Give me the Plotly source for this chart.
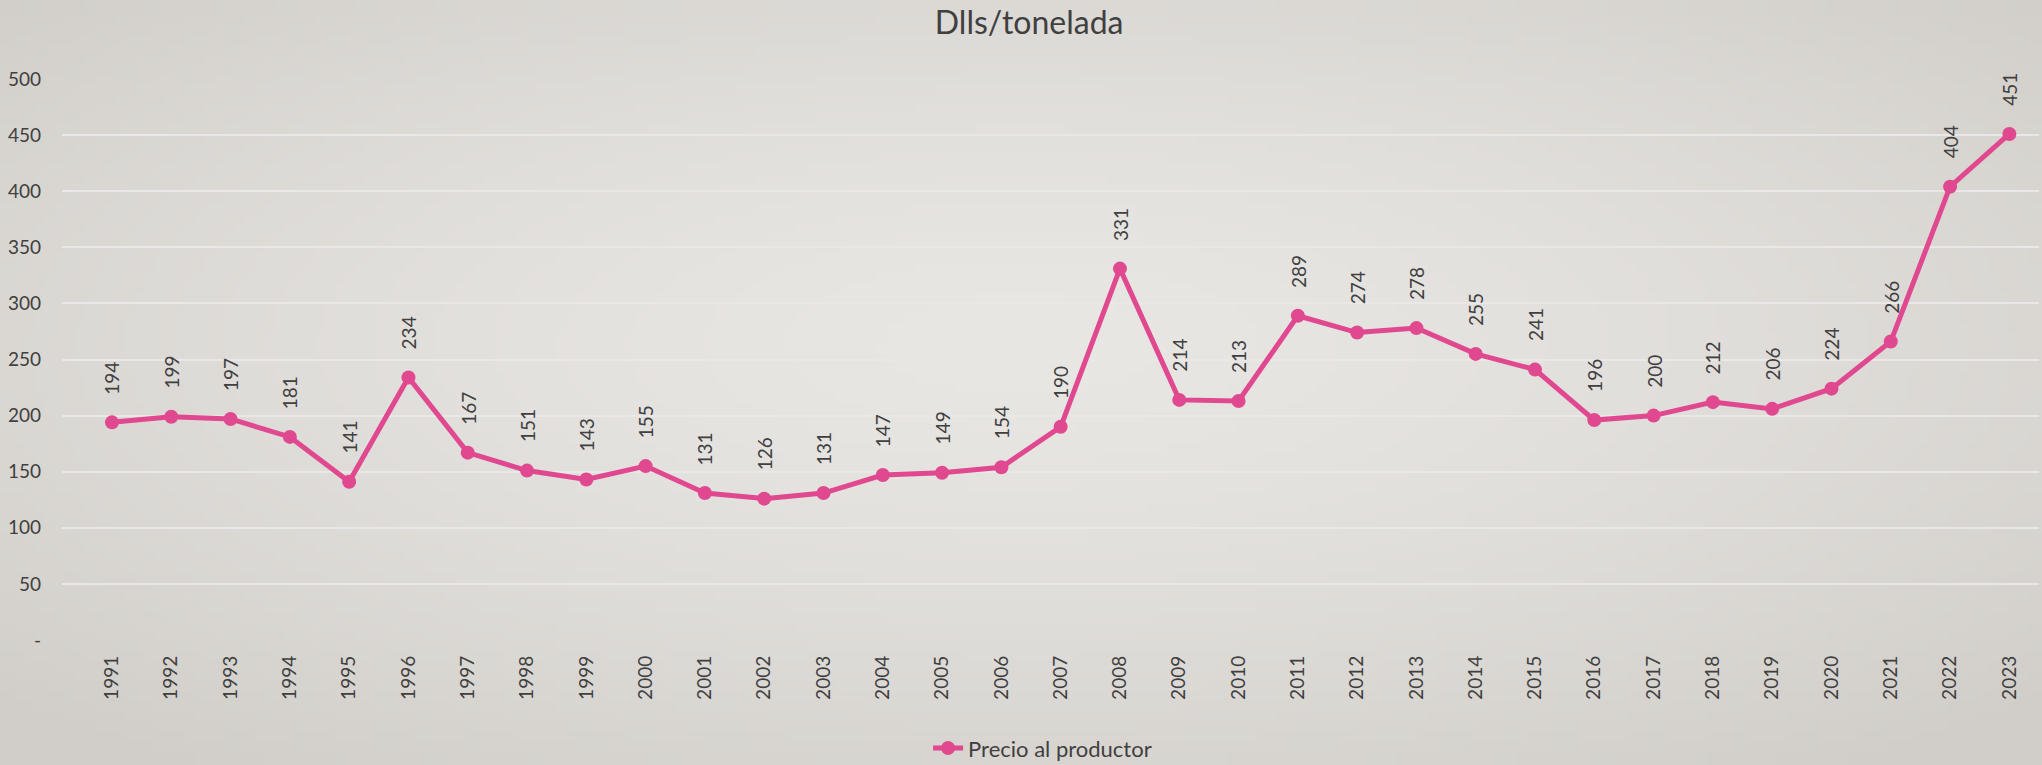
import base64
import struct
import zlib

import numpy as np
import plotly.graph_objects as go

years = [str(y) for y in range(1991, 2024)]
precio = [194, 199, 197, 181, 141, 234, 167, 151, 143, 155, 131, 126, 131, 147, 149, 154,
          190, 331, 214, 213, 289, 274, 278, 255, 241, 196, 200, 212, 206, 224, 266, 404, 451]
y_tickvals = [0, 50, 100, 150, 200, 250, 300, 350, 400, 450, 500]
y_ticktext = ["-", "50", "100", "150", "200", "250", "300", "350", "400", "450", "500"]

PINK = "#e0488f"
TXT = "#404040"
FONT = "Lato, 'Open Sans', sans-serif"
W, H = 2042, 765
ML, MR, MT, MB = 62, 3, 79, 125


def gradient_png(w=204, h=77):
    """Soft radial background (light centre, darker corners) as a PNG data URI."""
    yy, xx = np.mgrid[0:h, 0:w]
    dx = (xx / (w - 1) - 0.5) * 2
    dy = (yy / (h - 1) - 0.45) * 2
    r = np.clip(np.sqrt(dx ** 2 + dy ** 2) / np.sqrt(2), 0, 1)
    c0 = np.array([233, 231, 228], float)
    c1 = np.array([209, 206, 201], float)
    img = (c0[None, None, :] * (1 - r[..., None] ** 1.4) + c1[None, None, :] * r[..., None] ** 1.4)
    img = img.astype(np.uint8)
    raw = b"".join(b"\x00" + img[i].tobytes() for i in range(h))

    def chunk(t, d):
        return struct.pack(">I", len(d)) + t + d + struct.pack(">I", zlib.crc32(t + d) & 0xffffffff)

    png = b"\x89PNG\r\n\x1a\n" + chunk(b"IHDR", struct.pack(">IIBBBBB", w, h, 8, 2, 0, 0, 0)) \
        + chunk(b"IDAT", zlib.compress(raw, 9)) + chunk(b"IEND", b"")
    return "data:image/png;base64," + base64.b64encode(png).decode()


fig = go.Figure()
fig.add_trace(go.Scatter(
    x=years, y=precio, mode="lines+markers", name="Precio al productor",
    line=dict(color=PINK, width=5), marker=dict(color=PINK, size=14),
))

for i, v in enumerate(precio):
    fig.add_annotation(x=i, y=v, text=str(v), textangle=-90, showarrow=False,
                       yanchor="bottom", xanchor="center", yshift=26,
                       font=dict(family=FONT, size=19, color=TXT))

pw, ph = W - ML - MR, H - MT - MB
fig.add_layout_image(source=gradient_png(), xref="paper", yref="paper",
                     x=-ML / pw, y=1 + MT / ph, sizex=W / pw, sizey=H / ph,
                     xanchor="left", yanchor="top", sizing="stretch", layer="below")

fig.update_layout(
    width=W, height=H,
    margin=dict(l=ML, r=MR, t=MT, b=MB, autoexpand=False),
    paper_bgcolor="#dfdcd7", plot_bgcolor="rgba(0,0,0,0)",
    title=dict(text="Dlls/tonelada", x=0.504, xanchor="center", y=0.97, yanchor="middle",
               font=dict(family=FONT, size=32, color=TXT)),
    font=dict(family=FONT, size=19, color=TXT),
    showlegend=True,
    legend=dict(orientation="h", x=0.496, xanchor="center", yref="container", y=0.022,
                yanchor="middle",
                font=dict(family=FONT, size=22, color=TXT), bgcolor="rgba(0,0,0,0)"),
)
fig.update_xaxes(type="category", range=[-0.843, 32.5], tickangle=-90, showgrid=False,
                 showline=False, zeroline=False, ticklabelstandoff=11,
                 tickfont=dict(family=FONT, size=19, color=TXT))
fig.update_yaxes(range=[0, 500], tickvals=y_tickvals, ticktext=y_ticktext,
                 showgrid=True, gridcolor="#e9e8e6", gridwidth=1.5, zeroline=False,
                 showline=False, ticklabelstandoff=20,
                 tickfont=dict(family=FONT, size=19, color=TXT))

fig.write_html("out.html", config={"displayModeBar": False},
               post_script="document.body.style.margin='0';document.body.style.background='#dfdcd7';")
